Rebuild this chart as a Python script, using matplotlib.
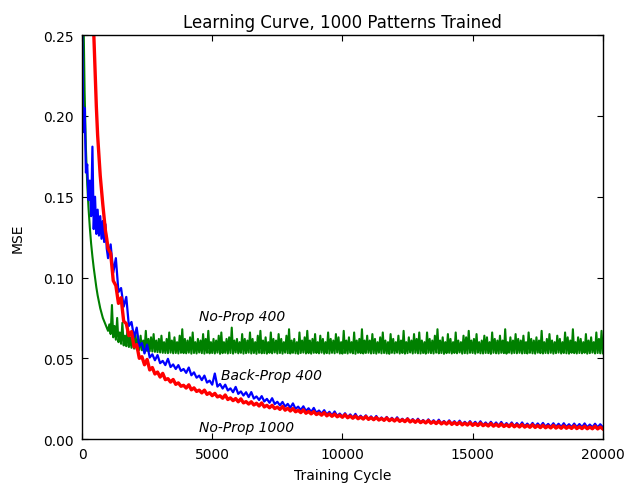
import numpy as np
import matplotlib
matplotlib.use("Agg")
import matplotlib.pyplot as plt

# ---------------- data ----------------
title = "Learning Curve, 1000 Patterns Trained"
xlabel = "Training Cycle"
ylabel = "MSE"
xticks = [0, 5000, 10000, 15000, 20000]
yticks = [0.00, 0.05, 0.10, 0.15, 0.20, 0.25]

# No-Prop 400 (green): early part, then low/high noise pairs every 100 cycles
green_early_x = [0, 50, 100, 150, 200, 250, 300, 350, 400, 450,
                 500, 550, 600, 650, 700, 750, 800, 850, 900, 950]
green_early_y = [0.32, 0.27, 0.215, 0.18, 0.158, 0.143, 0.131, 0.121, 0.113, 0.106,
                 0.100, 0.094, 0.089, 0.085, 0.081, 0.078, 0.075, 0.073, 0.071, 0.069]
green_pair_start = 1000
green_pair_step = 100
green_low = [
    0.067, 0.065, 0.063, 0.0615, 0.060, 0.059, 0.058, 0.0575, 0.057, 0.0565,
    0.056, 0.0556, 0.0552, 0.0550, 0.0548, 0.0546, 0.0544, 0.0542, 0.0540, 0.0538,
    0.0536, 0.0534, 0.0533, 0.0532, 0.0535, 0.0531, 0.0533, 0.0530, 0.0534, 0.0532,
    0.0531, 0.0535, 0.0529, 0.0533, 0.0530, 0.0536, 0.0532, 0.0529, 0.0534, 0.0531,
    0.0533, 0.0530, 0.0535, 0.0528, 0.0532, 0.0534, 0.0530, 0.0533, 0.0529, 0.0536,
    0.0531, 0.0534, 0.0529, 0.0532, 0.0535, 0.0530, 0.0533, 0.0528, 0.0534, 0.0531,
    0.0532, 0.0529, 0.0534, 0.0531, 0.0536, 0.0530, 0.0533, 0.0529, 0.0535, 0.0532,
    0.0530, 0.0534, 0.0531, 0.0528, 0.0533, 0.0535, 0.0530, 0.0532, 0.0529, 0.0534,
    0.0533, 0.0531, 0.0535, 0.0529, 0.0532, 0.0530, 0.0534, 0.0531, 0.0536, 0.0530,
    0.0529, 0.0533, 0.0530, 0.0535, 0.0531, 0.0528, 0.0534, 0.0532, 0.0530, 0.0533,
    0.0534, 0.0530, 0.0532, 0.0529, 0.0535, 0.0531, 0.0533, 0.0530, 0.0528, 0.0534,
    0.0531, 0.0535, 0.0530, 0.0533, 0.0529, 0.0532, 0.0536, 0.0530, 0.0534, 0.0531,
    0.0530, 0.0533, 0.0529, 0.0534, 0.0532, 0.0530, 0.0535, 0.0531, 0.0533, 0.0528,
    0.0532, 0.0534, 0.0530, 0.0533, 0.0531, 0.0536, 0.0529, 0.0532, 0.0530, 0.0534,
    0.0533, 0.0529, 0.0535, 0.0531, 0.0530, 0.0533, 0.0532, 0.0528, 0.0534, 0.0531,
    0.0530, 0.0534, 0.0532, 0.0529, 0.0535, 0.0530, 0.0533, 0.0531, 0.0534, 0.0530,
    0.0532, 0.0530, 0.0534, 0.0531, 0.0529, 0.0535, 0.0532, 0.0530, 0.0533, 0.0531,
    0.0534, 0.0529, 0.0532, 0.0535, 0.0530, 0.0533, 0.0531, 0.0529, 0.0534, 0.0532,
    0.0530, 0.0533, 0.0531, 0.0534, 0.0529, 0.0532, 0.0535, 0.0530, 0.0533, 0.0531,
]
green_high = [
    0.071, 0.083, 0.070, 0.075, 0.066, 0.072, 0.064, 0.069, 0.063, 0.067,
    0.066, 0.062, 0.064, 0.061, 0.067, 0.062, 0.063, 0.065, 0.061, 0.062,
    0.064, 0.060, 0.062, 0.066, 0.061, 0.063, 0.060, 0.064, 0.068, 0.062,
    0.061, 0.063, 0.066, 0.060, 0.062, 0.061, 0.065, 0.062, 0.067, 0.060,
    0.062, 0.061, 0.064, 0.066, 0.060, 0.062, 0.063, 0.069, 0.061, 0.062,
    0.060, 0.065, 0.062, 0.061, 0.066, 0.062, 0.060, 0.064, 0.067, 0.061,
    0.063, 0.060, 0.066, 0.062, 0.061, 0.065, 0.062, 0.060, 0.064, 0.068,
    0.061, 0.062, 0.060, 0.066, 0.061, 0.063, 0.067, 0.061, 0.062, 0.065,
    0.060, 0.064, 0.062, 0.060, 0.066, 0.062, 0.061, 0.065, 0.063, 0.060,
    0.067, 0.061, 0.063, 0.060, 0.066, 0.061, 0.062, 0.068, 0.061, 0.064,
    0.061, 0.065, 0.062, 0.060, 0.063, 0.066, 0.061, 0.060, 0.065, 0.062,
    0.060, 0.064, 0.061, 0.067, 0.060, 0.063, 0.061, 0.065, 0.062, 0.066,
    0.061, 0.060, 0.066, 0.062, 0.061, 0.064, 0.068, 0.061, 0.063, 0.060,
    0.065, 0.062, 0.060, 0.066, 0.061, 0.060, 0.064, 0.063, 0.067, 0.061,
    0.062, 0.065, 0.060, 0.061, 0.064, 0.063, 0.060, 0.066, 0.062, 0.061,
    0.064, 0.061, 0.068, 0.060, 0.063, 0.061, 0.065, 0.062, 0.061, 0.064,
    0.060, 0.066, 0.062, 0.061, 0.063, 0.061, 0.067, 0.060, 0.062, 0.065,
    0.061, 0.060, 0.064, 0.062, 0.060, 0.066, 0.063, 0.061, 0.068, 0.060,
    0.063, 0.062, 0.060, 0.065, 0.061, 0.063, 0.060, 0.066, 0.062, 0.067,
]

# Back-Prop 400 (blue)
blue_early_x = [0, 50, 100, 150, 200, 250, 300, 350, 400, 450,
                500, 550, 600, 650, 700, 750, 800, 850, 900, 950]
blue_early_y = [0.27, 0.19, 0.205, 0.165, 0.17, 0.148, 0.16, 0.138, 0.181, 0.13,
                0.15, 0.127, 0.142, 0.126, 0.138, 0.124, 0.135, 0.122, 0.133, 0.118]
blue_pair_start = 1000
blue_pair_step = 200
blue_low = [
    0.112, 0.103, 0.091, 0.082, 0.070, 0.063, 0.0575, 0.053, 0.0505, 0.0488,
    0.047, 0.0458, 0.0446, 0.0434, 0.0422, 0.041, 0.0395, 0.038, 0.0365, 0.035,
    0.0337, 0.0325, 0.0313, 0.0301, 0.029, 0.028, 0.027, 0.026, 0.0251, 0.0242,
    0.0233, 0.0225, 0.0217, 0.0209, 0.0201, 0.0194, 0.0187, 0.018, 0.0174, 0.0168,
    0.0162, 0.0157, 0.0152, 0.0147, 0.0143, 0.0139, 0.0135, 0.0132, 0.0129, 0.0126,
    0.0123, 0.012, 0.0118, 0.0116, 0.0114, 0.0112, 0.011, 0.0108, 0.0106, 0.0104,
    0.0102, 0.0100, 0.0099, 0.0097, 0.0096, 0.0094, 0.0093, 0.0091, 0.0090, 0.0089,
    0.0088, 0.0087, 0.0086, 0.0085, 0.0084, 0.0083, 0.0082, 0.0081, 0.0080, 0.0080,
    0.0079, 0.0078, 0.0078, 0.0077, 0.0077, 0.0076, 0.0076, 0.0075, 0.0075, 0.0074,
    0.0074, 0.0074, 0.0073, 0.0073, 0.0073,
]
blue_high = [
    0.1205, 0.112, 0.0935, 0.088, 0.0725, 0.069, 0.0595, 0.0585, 0.0525, 0.052,
    0.0484, 0.0497, 0.0462, 0.0458, 0.0434, 0.0443, 0.0413, 0.0393, 0.0393, 0.0362,
    0.0406, 0.0341, 0.0337, 0.0314, 0.0323, 0.0295, 0.029, 0.0291, 0.0264, 0.0266,
    0.0249, 0.0253, 0.0231, 0.023, 0.0218, 0.0221, 0.0201, 0.0203, 0.0191, 0.0193,
    0.0177, 0.0179, 0.0169, 0.0171, 0.0158, 0.0160, 0.0153, 0.0156, 0.0145, 0.0147,
    0.0141, 0.0143, 0.0134, 0.0137, 0.0132, 0.0135, 0.0126, 0.0129, 0.0124, 0.0126,
    0.0118, 0.0122, 0.0117, 0.0120, 0.0112, 0.0116, 0.0111, 0.0114, 0.0107, 0.0111,
    0.0107, 0.0110, 0.0103, 0.0107, 0.0103, 0.0106, 0.0099, 0.0103, 0.0099, 0.0103,
    0.0096, 0.0100, 0.0097, 0.0100, 0.0094, 0.0098, 0.0095, 0.0098, 0.0092, 0.0096,
    0.0093, 0.0097, 0.0090, 0.0095, 0.0092,
]

# No-Prop 1000 (red)
red_early_x = [300, 400, 450, 500, 550, 600, 650, 700, 750, 800, 850, 900, 950]
red_early_y = [0.32, 0.275, 0.252, 0.228, 0.206, 0.188, 0.175, 0.163, 0.154, 0.145,
               0.137, 0.129, 0.124]
red_pair_start = 1000
red_pair_step = 200
red_low = [
    0.118, 0.098, 0.084, 0.073, 0.064, 0.057, 0.050, 0.046, 0.0428, 0.0403,
    0.0384, 0.0368, 0.0353, 0.0339, 0.0327, 0.0316, 0.0305, 0.0295, 0.0286, 0.0277,
    0.0269, 0.0261, 0.0253, 0.0245, 0.0238, 0.0231, 0.0224, 0.0217, 0.0211, 0.0205,
    0.0199, 0.0194, 0.0189, 0.0184, 0.0179, 0.0174, 0.0169, 0.0164, 0.0160, 0.0156,
    0.0152, 0.0148, 0.0144, 0.0141, 0.0138, 0.0135, 0.0132, 0.0129, 0.0126, 0.0124,
    0.0122, 0.0120, 0.0118, 0.0116, 0.0114, 0.0112, 0.0110, 0.0108, 0.0106, 0.0104,
    0.0102, 0.0100, 0.0098, 0.0096, 0.0094, 0.0093, 0.0091, 0.0090, 0.0088, 0.0087,
    0.0085, 0.0084, 0.0083, 0.0081, 0.0080, 0.0079, 0.0078, 0.0077, 0.0076, 0.0075,
    0.0074, 0.0073, 0.0072, 0.0071, 0.0070, 0.0069, 0.0068, 0.0067, 0.0067, 0.0066,
    0.0065, 0.0065, 0.0064, 0.0064, 0.0063,
]
red_high = [
    0.115, 0.095, 0.0875, 0.0715, 0.0665, 0.0585, 0.051, 0.0493, 0.0443, 0.0415,
    0.0407, 0.0374, 0.0369, 0.0348, 0.0333, 0.0336, 0.0317, 0.0303, 0.0303, 0.0287,
    0.0283, 0.0268, 0.0273, 0.0255, 0.0251, 0.0249, 0.0232, 0.0231, 0.0222, 0.0224,
    0.0209, 0.0209, 0.0198, 0.0202, 0.0191, 0.0189, 0.0178, 0.0181, 0.0171, 0.0170,
    0.0161, 0.0164, 0.0156, 0.0155, 0.0148, 0.0151, 0.0143, 0.0143, 0.0136, 0.0140,
    0.0133, 0.0134, 0.0128, 0.0131, 0.0125, 0.0126, 0.0120, 0.0124, 0.0117, 0.0118,
    0.0112, 0.0115, 0.0109, 0.0110, 0.0105, 0.0108, 0.0103, 0.0104, 0.0099, 0.0102,
    0.0097, 0.0099, 0.0093, 0.0097, 0.0092, 0.0094, 0.0089, 0.0093, 0.0088, 0.0090,
    0.0085, 0.0089, 0.0084, 0.0086, 0.0081, 0.0085, 0.0080, 0.0082, 0.0078, 0.0082,
    0.0077, 0.0080, 0.0075, 0.0080, 0.0075,
]

labels = ["No-Prop 400", "Back-Prop 400", "No-Prop 1000"]
label_x = [4480, 5320, 4480]
label_y = [0.0765, 0.0395, 0.0072]


def build(early_x, early_y, start, step, lows, highs):
    n = min(len(lows), len(highs))
    base = start + step * np.arange(n)
    xs = np.empty(2 * n)
    ys = np.empty(2 * n)
    xs[0::2] = base
    xs[1::2] = base + step / 2
    ys[0::2] = lows[:n]
    ys[1::2] = highs[:n]
    return (np.concatenate([early_x, xs, [20000]]),
            np.concatenate([early_y, ys, [lows[n - 1]]]))


gx, gy = build(green_early_x, green_early_y, green_pair_start, green_pair_step, green_low, green_high)
bx, by = build(blue_early_x, blue_early_y, blue_pair_start, blue_pair_step, blue_low, blue_high)
rx, ry = build(red_early_x, red_early_y, red_pair_start, red_pair_step, red_low, red_high)

# ---------------- plot ----------------
fig = plt.figure(figsize=(6.26, 4.89), dpi=100)
ax = fig.add_axes([0.131, 0.100, 0.832, 0.826])

ax.plot(gx, gy, color="green", lw=1.5)
ax.plot(bx, by, color="blue", lw=1.6)
ax.plot(rx, ry, color="red", lw=2.4)

ax.set_xlim(0, 20000)
ax.set_ylim(0, 0.25)
ax.set_xticks(xticks)
ax.set_yticks(yticks)
ax.set_yticklabels([f"{v:.2f}" for v in yticks])
ax.tick_params(direction="in", top=True, right=True, length=4, width=0.8,
               labelsize=10, pad=6, colors="black")
for s in ax.spines.values():
    s.set_linewidth(1.0)

for t, x, y in zip(labels, label_x, label_y):
    ax.text(x, y, t, fontsize=10, style="italic", va="center", ha="left")

ax.set_title(title, fontsize=12, pad=6)
ax.set_xlabel(xlabel, fontsize=10, labelpad=5)
ax.set_ylabel(ylabel, fontsize=10, labelpad=13)

fig.savefig("out.png", dpi=100)
